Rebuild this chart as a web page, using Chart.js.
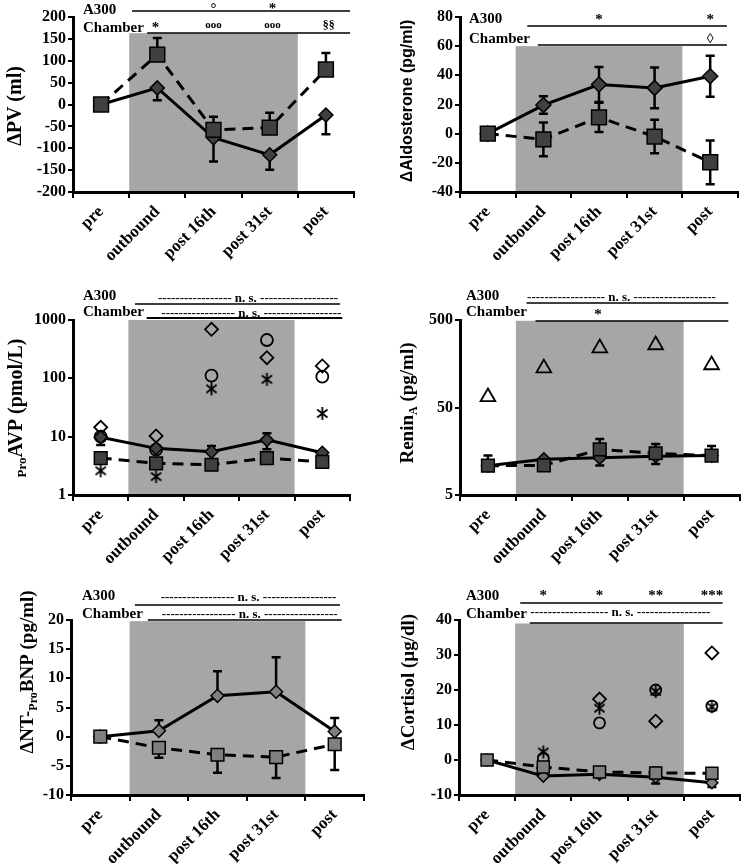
<!DOCTYPE html>
<html><head><meta charset="utf-8">
<script src="https://cdn.jsdelivr.net/npm/chart.js@4"></script>
<style>
html,body{margin:0;padding:0;background:#fff;}
body{width:750px;height:864px;position:relative;overflow:hidden;}
canvas{position:absolute;display:block;}
</style></head><body>
<canvas id="c1" width="375" height="285" style="left:0;top:0"></canvas>
<canvas id="c2" width="375" height="285" style="left:375px;top:0"></canvas>
<canvas id="c3" width="375" height="290" style="left:0;top:285px"></canvas>
<canvas id="c4" width="375" height="290" style="left:375px;top:285px"></canvas>
<canvas id="c5" width="375" height="289" style="left:0;top:575px"></canvas>
<canvas id="c6" width="375" height="289" style="left:375px;top:575px"></canvas>
<script>
// ---------------- DATA ----------------
const categories = ['pre', 'outbound', 'post 16th', 'post 31st', 'post'];

// ΔPV (ml)
const pvDiamond = [0, 38, -76, -115, -24];
const pvDiamondErrUp = [0, 0, 0, 0, 0];
const pvDiamondErrDown = [0, 28, 54, 34, 44];
const pvSquare = [0, 114, -58, -53, 80];
const pvSquareErrUp = [0, 38, 30, 34, 38];
const pvSquareErrDown = [0, 0, 0, 0, 0];
const pvTicks = [-200, -150, -100, -50, 0, 50, 100, 150, 200];

// ΔAldosterone (pg/ml)
const aldoDiamond = [0, 19.6, 33.7, 31.4, 39.4];
const aldoDiamondErr = [0, 6, 12, 14, 14];
const aldoSquare = [0, -3.9, 11.2, -2, -19.6];
const aldoSquareErr = [0, 11.5, 10, 11.5, 15];
const aldoTicks = [-40, -20, 0, 20, 40, 60, 80];

// ProAVP (pmol/L)
const avpDiamond = [9.8, 6.3, 5.5, 8.8, 5.3];
const avpDiamondErrUp = [0, 0, 1.4, 2.7, 0];
const avpDiamondErrDown = [2.6, 0, 0, 2.7, 0];
const avpSquare = [4.3, 3.5, 3.3, 4.3, 3.7];
const avpOpenDiamond = [14.5, 10.3, 692, 226, 163];
const avpCircle = [10, 6, 111, 454, 107];
const avpStar = [2.6, 2.07, 66, 96, 25];
const avpTicks = [1, 10, 100, 1000];

// Renin_A (pg/ml)
const reninDiamond = [10.8, 12.8, 13.3, 13.9, 14.1];
const reninDiamondErrDown = [0, 0, 2.4, 2.6, 0];
const reninSquare = [10.8, 10.9, 16.6, 15, 14.1];
const reninSquareErrUp = [3.3, 0, 5.2, 4.1, 4];
const reninTriangle = [66, 141, 239, 259, 153];
const reninTicks = [5, 50, 500];

// ΔNT-proBNP (pg/ml)
const bnpDiamond = [0, 1.0, 7.0, 7.7, 0.9];
const bnpDiamondErrUp = [0, 1.8, 4.2, 5.9, 2.3];
const bnpSquare = [0, -1.9, -3.1, -3.5, -1.3];
const bnpSquareErrDown = [0, 1.7, 3.1, 3.6, 4.4];
const bnpTicks = [-10, -5, 0, 5, 10, 15, 20];

// ΔCortisol (µg/dl)
const cortDiamond = [0, -4.6, -4.1, -4.9, -6.5];
const cortDiamondErrDown = [0, 0.5, 0.8, 1.8, 1.2];
const cortSquare = [0, -2, -3.4, -3.7, -3.8];
const cortSquareErrUp = [0, 0, 0.8, 1.5, 1.3];
const cortOpenDiamond = [null, -2.3, 17.4, 11.1, 30.6];
const cortCircle = [null, 0.5, 10.6, 20, 15.4];
const cortStar = [null, 2.3, 14.8, 19.6, 15.2];
const cortTicks = [-10, 0, 10, 20, 30, 40];

// ---------------- STYLE ----------------
const SERIF = '"Liberation Serif", "Times New Roman", serif';
const SANS = '"Liberation Sans", Arial, sans-serif';
const SHADE = '#a6a6a6';
const DARK = '#404040';
const MID = '#7f7f7f';

function makeAsterisk(size, lw) {
  const c = document.createElement('canvas');
  c.width = size; c.height = size;
  const g = c.getContext('2d');
  g.strokeStyle = '#000'; g.lineWidth = lw;
  const m = size / 2, r = size / 2 - 1;
  g.beginPath();
  g.moveTo(m, m - r); g.lineTo(m, m + r);
  for (const a of [38, 142]) {
    const rad = a * Math.PI / 180;
    g.moveTo(m - r * Math.cos(rad), m - r * Math.sin(rad));
    g.lineTo(m + r * Math.cos(rad), m + r * Math.sin(rad));
  }
  g.stroke();
  return c;
}
const asterisk = makeAsterisk(15, 1.8);

function drawTitle(ctx, segs, cx, cy, family, size) {
  ctx.save();
  ctx.translate(cx, cy);
  ctx.rotate(-Math.PI / 2);
  ctx.fillStyle = '#000';
  ctx.textBaseline = 'alphabetic';
  ctx.textAlign = 'left';
  let total = 0;
  const widths = segs.map(s => {
    ctx.font = 'bold ' + (s.sub ? s.sub : size) + 'px ' + family;
    const w = ctx.measureText(s.t).width;
    total += w; return w;
  });
  let x = -total / 2;
  const base = size * 0.35;
  segs.forEach((s, i) => {
    ctx.font = 'bold ' + (s.sub ? s.sub : size) + 'px ' + family;
    ctx.fillText(s.t, x, base + (s.sub ? size * 0.22 : 0));
    x += widths[i];
  });
  ctx.restore();
}

function makePanel(p) {
  const canvas = document.getElementById(p.id);
  const W = canvas.width, H = canvas.height;
  const A = p.area;
  const datasets = p.series.map((s, k) => ({
    data: s.data,
    borderColor: '#000',
    borderWidth: s.line ? 3 : 0,
    borderDash: s.line === 'dashed' ? [11, 7] : [],
    showLine: !!s.line,
    pointStyle: s.style,
    pointRadius: s.r,
    pointHoverRadius: s.r,
    pointBackgroundColor: s.fill || 'rgba(0,0,0,0)',
    pointBorderColor: '#000',
    pointBorderWidth: s.bw || 1.5,
    clip: false,
    spanGaps: true,
    order: s.line === 'dashed' ? 0 : k + 1
  }));
  const plugin = {
    id: 'panel_' + p.id,
    beforeDraw(chart) {
      const ctx = chart.ctx, xs = chart.scales.x, ys = chart.scales.y, ca = chart.chartArea;
      ctx.save();
      ctx.fillStyle = SHADE;
      const x1 = xs.getPixelForValue(0.5), x2 = xs.getPixelForValue(3.5);
      const yt = ys.getPixelForValue(p.shadeTop);
      ctx.fillRect(x1, yt, x2 - x1, ca.bottom - yt);
      ctx.restore();
    },
    beforeDatasetsDraw(chart) {
      const ctx = chart.ctx, xs = chart.scales.x, ys = chart.scales.y;
      ctx.save();
      ctx.strokeStyle = '#000'; ctx.lineWidth = 2.5;
      p.series.forEach(s => {
        if (!s.errUp && !s.errDown) return;
        s.data.forEach((v, i) => {
          if (v == null) return;
          const x = xs.getPixelForValue(i), y0 = ys.getPixelForValue(v);
          const parts = [];
          if (s.errUp && s.errUp[i] > 0) parts.push(v + s.errUp[i]);
          if (s.errDown && s.errDown[i] > 0) parts.push(v - s.errDown[i]);
          parts.forEach(e => {
            const y1 = ys.getPixelForValue(e);
            ctx.beginPath();
            ctx.moveTo(x, y0); ctx.lineTo(x, y1);
            ctx.moveTo(x - 4.5, y1); ctx.lineTo(x + 4.5, y1);
            ctx.stroke();
          });
        });
      });
      ctx.restore();
    },
    afterDraw(chart) {
      const ctx = chart.ctx, xs = chart.scales.x;
      ctx.save();
      ctx.fillStyle = '#000'; ctx.strokeStyle = '#000';
      const X = o => (o.ix !== undefined ? xs.getPixelForValue(o.ix) : o.px);
      (p.lines || []).forEach(l => {
        ctx.lineWidth = l.w || 1.5;
        ctx.beginPath();
        ctx.moveTo(xs.getPixelForValue(l.a), l.y);
        ctx.lineTo(xs.getPixelForValue(l.b), l.y);
        ctx.stroke();
      });
      (p.texts || []).forEach(t => {
        ctx.font = 'bold ' + (t.size || 15) + 'px ' + SERIF;
        ctx.textAlign = t.align || (t.ix !== undefined ? 'center' : 'left');
        ctx.textBaseline = 'alphabetic';
        ctx.fillText(t.t, X(t), t.y);
      });
      (p.ns || []).forEach(n => {
        ctx.font = 'bold 13px ' + SERIF;
        ctx.textBaseline = 'alphabetic';
        const xa = xs.getPixelForValue(n.a), xb = xs.getPixelForValue(n.b), xc = xs.getPixelForValue(n.c);
        const core = ' n. s. ';
        const cw = ctx.measureText(core).width, dw = ctx.measureText('-').width;
        const nl = Math.max(0, Math.floor((xc - cw / 2 - xa) / dw));
        const nr = Math.max(0, Math.floor((xb - xc - cw / 2) / dw));
        ctx.textAlign = 'center';
        ctx.fillText(core, xc, n.y);
        ctx.textAlign = 'right';
        ctx.fillText('-'.repeat(nl), xc - cw / 2, n.y);
        ctx.textAlign = 'left';
        ctx.fillText('-'.repeat(nr), xc + cw / 2, n.y);
      });
      drawTitle(ctx, p.title.segs, p.title.x, p.title.y, p.title.family || SERIF, p.title.size);
      ctx.restore();
    }
  };
  new Chart(canvas, {
    type: 'line',
    data: { labels: categories, datasets },
    options: {
      responsive: false, animation: false, devicePixelRatio: 1, events: [],
      layout: { padding: { left: 0, right: W - A.right, top: A.top, bottom: 0 } },
      plugins: { legend: { display: false }, tooltip: { enabled: false } },
      scales: {
        x: {
          type: 'category', offset: true,
          grid: { offset: true, drawOnChartArea: false, drawTicks: true, tickLength: 6, color: '#000', lineWidth: 2 },
          border: { color: '#000', width: 3 },
          ticks: { autoSkip: false, maxRotation: 45, minRotation: 45, color: '#000', padding: 4,
                   font: { family: SERIF, size: 17, weight: 'bold' } },
          afterFit: s => { s.height = H - A.bottom; }
        },
        y: {
          type: p.log ? 'logarithmic' : 'linear',
          min: p.ticks[0], max: p.ticks[p.ticks.length - 1],
          afterBuildTicks: s => { s.ticks = p.ticks.map(v => ({ value: v })); },
          grid: { drawOnChartArea: false, drawTicks: true, tickLength: 5, color: '#000', lineWidth: 2 },
          border: { color: '#000', width: 3 },
          ticks: { color: '#000', padding: 2, autoSkip: false, callback: v => String(v),
                   font: { family: SERIF, size: 16, weight: 'bold' } },
          afterFit: s => { s.width = A.left; }
        }
      }
    },
    plugins: [plugin]
  });
}

// ---------------- PANELS ----------------
makePanel({
  id: 'c1', area: { left: 73, right: 354, top: 17, bottom: 192 }, ticks: pvTicks, shadeTop: 163,
  series: [
    { data: pvDiamond, style: 'rectRot', r: 7, fill: DARK, line: 'solid', errUp: pvDiamondErrUp, errDown: pvDiamondErrDown },
    { data: pvSquare, style: 'rect', r: 10.5, fill: DARK, line: 'dashed', errUp: pvSquareErrUp, errDown: pvSquareErrDown }
  ],
  lines: [{ a: 0.55, b: 4.43, y: 11 }, { a: 0.82, b: 4.43, y: 33 }],
  texts: [
    { t: 'A300', px: 83, y: 14 }, { t: 'Chamber', px: 83, y: 32 },
    { t: '°', ix: 2, y: 13, size: 15 }, { t: '*', ix: 3.05, y: 13 },
    { t: '*', ix: 0.97, y: 32 }, { t: 'ooo', ix: 2, y: 28, size: 11 }, { t: 'ooo', ix: 3.05, y: 28, size: 11 },
    { t: '§§', ix: 4.05, y: 29, size: 12 }
  ],
  title: { segs: [{ t: 'ΔPV (ml)' }], x: 14, y: 106, size: 20 }
});

makePanel({
  id: 'c2', area: { left: 85, right: 370, top: 17, bottom: 192 }, ticks: aldoTicks, shadeTop: 60,
  series: [
    { data: aldoDiamond, style: 'rectRot', r: 7.5, fill: DARK, line: 'solid', errUp: aldoDiamondErr, errDown: aldoDiamondErr },
    { data: aldoSquare, style: 'rect', r: 10.5, fill: DARK, line: 'dashed', errUp: aldoSquareErr, errDown: aldoSquareErr }
  ],
  lines: [{ a: 0.71, b: 4.3, y: 26 }, { a: 0.9, b: 4.3, y: 45 }],
  texts: [
    { t: 'A300', px: 94, y: 23 }, { t: 'Chamber', px: 94, y: 43 },
    { t: '*', ix: 2, y: 24 }, { t: '*', ix: 4, y: 24 },
    { t: '◊', ix: 4, y: 43, size: 14 }
  ],
  title: { segs: [{ t: 'ΔAldosterone (pg/ml)' }], x: 31, y: 101, size: 16, family: SANS }
});

makePanel({
  id: 'c3', area: { left: 73, right: 350, top: 35, bottom: 210 }, ticks: avpTicks, log: true, shadeTop: 1000,
  series: [
    { data: avpDiamond, style: 'rectRot', r: 6.5, fill: DARK, line: 'solid', errUp: avpDiamondErrUp, errDown: avpDiamondErrDown },
    { data: avpSquare, style: 'rect', r: 9, fill: DARK, line: 'dashed' },
    { data: avpOpenDiamond, style: 'rectRot', r: 6.5, bw: 1.8 },
    { data: avpCircle, style: 'circle', r: 6, bw: 1.8 },
    { data: avpStar, style: asterisk, r: 7 }
  ],
  lines: [{ a: 0.62, b: 4.32, y: 19 }, { a: 0.83, b: 4.36, y: 33, w: 2 }],
  ns: [{ a: 1.03, b: 4.32, c: 2.62, y: 17 }, { a: 1.03, b: 4.36, c: 2.68, y: 32 }],
  texts: [{ t: 'A300', px: 83, y: 15 }, { t: 'Chamber', px: 83, y: 31 }],
  title: { segs: [{ t: 'Pro', sub: 13 }, { t: 'AVP (pmol/L)' }], x: 15, y: 123, size: 20 }
});

makePanel({
  id: 'c4', area: { left: 85, right: 370, top: 35, bottom: 210 }, ticks: reninTicks, log: true, shadeTop: 490,
  series: [
    { data: reninDiamond, style: 'rectRot', r: 6.5, fill: DARK, line: 'solid', errDown: reninDiamondErrDown },
    { data: reninSquare, style: 'rect', r: 9, fill: DARK, line: 'dashed', errUp: reninSquareErrUp },
    { data: reninTriangle, style: 'triangle', r: 8.5, bw: 1.8 }
  ],
  lines: [{ a: 0.69, b: 4.3, y: 18 }, { a: 0.85, b: 4.3, y: 36 }],
  ns: [{ a: 0.69, b: 4.1, c: 2.35, y: 16 }],
  texts: [{ t: 'A300', px: 91, y: 15 }, { t: 'Chamber', px: 91, y: 31 }, { t: '*', ix: 1.97, y: 34 }],
  title: { segs: [{ t: 'Renin' }, { t: 'A', sub: 12 }, { t: ' (pg/ml)' }], x: 31, y: 118, size: 19 }
});

makePanel({
  id: 'c5', area: { left: 71, right: 364, top: 45, bottom: 220 }, ticks: bnpTicks, shadeTop: 19.8,
  series: [
    { data: bnpDiamond, style: 'rectRot', r: 6.5, fill: MID, line: 'solid', errUp: bnpDiamondErrUp },
    { data: bnpSquare, style: 'rect', r: 9, fill: MID, line: 'dashed', errDown: bnpSquareErrDown }
  ],
  lines: [{ a: 0.59, b: 4.09, y: 30 }, { a: 0.81, b: 4.12, y: 45 }],
  ns: [{ a: 0.97, b: 4.09, c: 2.53, y: 26 }, { a: 0.98, b: 4.12, c: 2.55, y: 43 }],
  texts: [{ t: 'A300', px: 82, y: 25 }, { t: 'Chamber', px: 82, y: 43 }],
  title: { segs: [{ t: 'ΔNT-' }, { t: 'Pro', sub: 12 }, { t: 'BNP (pg/ml)' }], x: 26, y: 97, size: 19 }
});

makePanel({
  id: 'c6', area: { left: 84, right: 373, top: 45, bottom: 220 }, ticks: cortTicks, shadeTop: 39,
  series: [
    { data: cortDiamond, style: 'rectRot', r: 6, fill: MID, line: 'solid', errDown: cortDiamondErrDown },
    { data: cortSquare, style: 'rect', r: 8.5, fill: MID, line: 'dashed', errUp: cortSquareErrUp },
    { data: cortOpenDiamond, style: 'rectRot', r: 6.5, bw: 1.8 },
    { data: cortCircle, style: 'circle', r: 5.5, bw: 1.8 },
    { data: cortStar, style: asterisk, r: 7 }
  ],
  lines: [{ a: 0.59, b: 4.19, y: 28 }, { a: 0.76, b: 4.19, y: 48 }],
  ns: [{ a: 0.76, b: 4.05, c: 2.41, y: 41 }],
  texts: [
    { t: 'A300', px: 91, y: 25 }, { t: 'Chamber', px: 91, y: 43 },
    { t: '*', ix: 1, y: 25 }, { t: '*', ix: 2, y: 25 }, { t: '**', ix: 3, y: 25 }, { t: '***', ix: 4, y: 25 }
  ],
  title: { segs: [{ t: 'ΔCortisol (µg/dl)' }], x: 32, y: 107, size: 19 }
});
</script>
</body></html>
